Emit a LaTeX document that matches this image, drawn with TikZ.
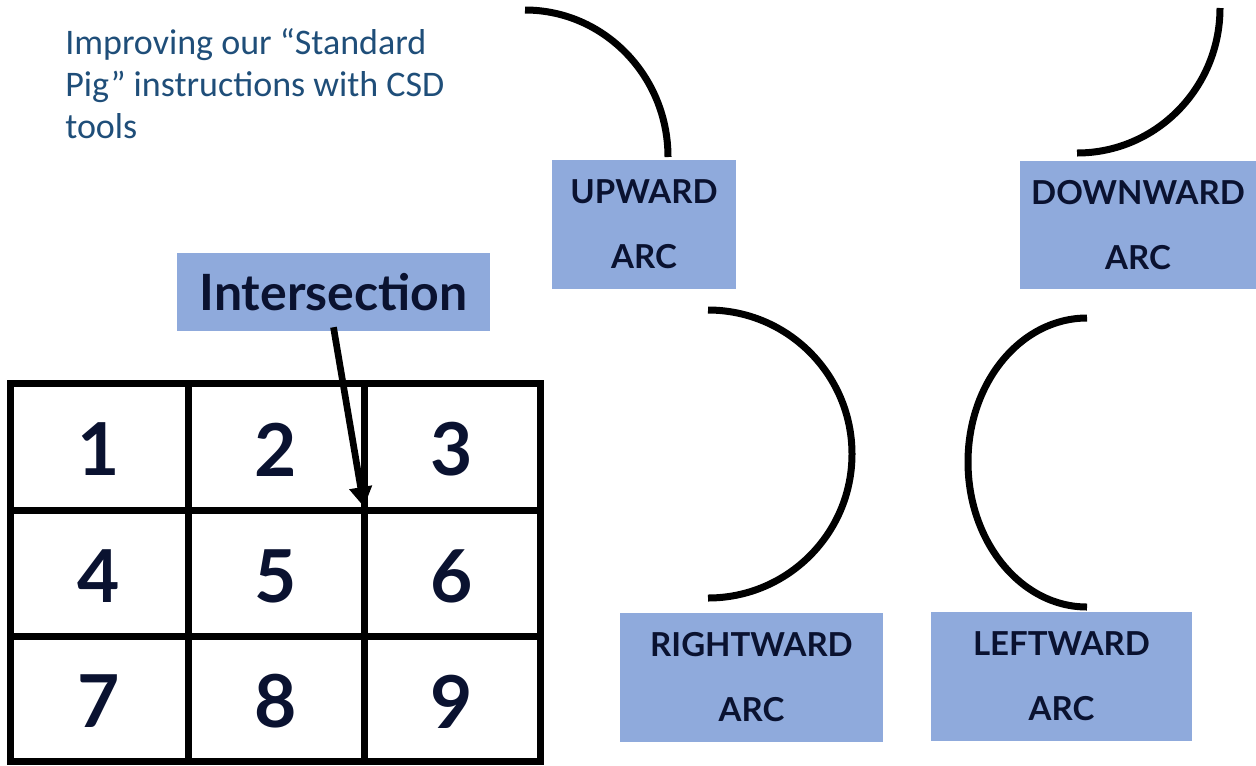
\documentclass[tikz,border=0pt]{standalone}
\usepackage{fontspec}
\setmainfont{Lato}
\newfontfamily\calib{Carlito}
\usetikzlibrary{arrows.meta}
\definecolor{boxblue}{HTML}{8FAADC}
\definecolor{ink}{HTML}{0A1230}
\definecolor{titleblue}{HTML}{1F4E79}
\begin{document}
\begin{tikzpicture}[x=0.75pt,y=-0.75pt,
  lbl/.style={rectangle, fill=boxblue, inner sep=0pt, align=center, text=ink,
    font=\fontsize{24.75}{48.75}\selectfont\bfseries},
  digit/.style={text=ink, inner sep=0pt, font=\fontsize{54.75}{60}\selectfont\bfseries},
  arcline/.style={line width=5.25pt},
  gridline/.style={line width=5.25pt},
  arr/.style={line width=5pt, -{Triangle[length=15pt,width=16.5pt]}}]
\useasboundingbox (0,0) rectangle (1256,765);

% title text (base anchor = baseline of last line)
\node[anchor=base west, inner sep=0pt, align=left, text=titleblue,
  font=\calib\fontsize{27}{31.5}\selectfont] (title) at (65,138)
  {Improving our “Standard\\Pig” instructions with CSD\\tools};

% arc label boxes
\node[lbl, minimum width=138pt, minimum height=96.75pt] (up) at (644,224.5) {UPWARD\\ARC};
\node[lbl, minimum width=177pt, minimum height=96pt] (down) at (1138,225) {DOWNWARD\\ARC};
\node[lbl, minimum width=197.25pt, minimum height=96.75pt] (right) at (751.5,677.5) {RIGHTWARD\\ARC};
\node[lbl, minimum width=195.75pt, minimum height=96.75pt] (left) at (1061.5,676.5) {LEFTWARD\\ARC};

% arcs
\draw[arcline] (525,10) .. controls (604,10) and (668,76) .. (668,157);
\draw[arcline] (1220,8) .. controls (1220,88) and (1156,153) .. (1077,153);
\draw[arcline] (708,310) .. controls (787.5,310) and (852,374.5) .. (852,454)
  .. controls (852,533.5) and (787.5,598) .. (708,598);
\draw[arcline] (1087,318) .. controls (1021.3,318) and (968,382) .. (968,462)
  .. controls (968,542) and (1021.3,607) .. (1087,607);

% grid
\draw[gridline] (10,383) rectangle (540,761);
\draw[gridline] (188,383) -- (188,761);
\draw[gridline] (364,383) -- (364,761);
\draw[gridline] (10,510) -- (540,510);
\draw[gridline] (10,636) -- (540,636);

\node[digit] (d1) at (99,449.5) {1};
\node[digit] (d2) at (276,449.5) {2};
\node[digit] (d3) at (452,449.5) {3};
\node[digit] (d4) at (99,576) {4};
\node[digit] (d5) at (276,576) {5};
\node[digit] (d6) at (452,576) {6};
\node[digit] (d7) at (99,701.5) {7};
\node[digit] (d8) at (276,701.5) {8};
\node[digit] (d9) at (452,701.5) {9};

% intersection label and arrow
\node[rectangle, fill=boxblue, inner sep=0pt, text=ink,
  minimum width=234.75pt, minimum height=58.5pt,
  font=\fontsize{37.5}{45}\selectfont\bfseries] (inter) at (333.5,292) {Intersection};
\coordinate (x23) at (364,507);
\draw[arr] ([yshift=3pt]inter.south) -- (x23);
\end{tikzpicture}
\end{document}
